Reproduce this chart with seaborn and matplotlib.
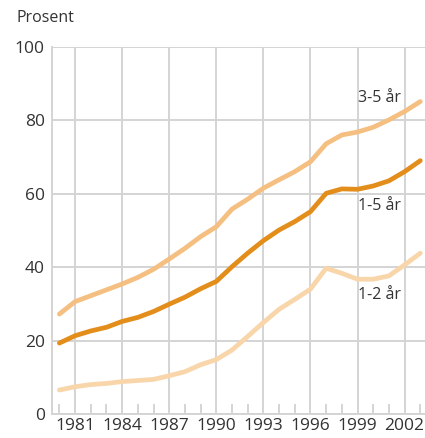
import numpy as np
import pandas as pd
import seaborn as sns
import matplotlib.pyplot as plt

# --- Data ---
YEARS = list(range(1980, 2004))
AGE_3_5 = [27.2, 30.6, 32.2, 33.8, 35.4, 37.2, 39.4, 42.2, 45.1, 48.3, 51.0, 55.8,
           58.5, 61.5, 63.8, 66.0, 68.7, 73.6, 76.0, 76.8, 78.1, 80.1, 82.4, 85.1]
AGE_1_5 = [19.3, 21.3, 22.6, 23.6, 25.2, 26.3, 27.9, 29.9, 31.8, 34.1, 36.1, 40.1,
           43.8, 47.2, 50.1, 52.4, 55.1, 60.1, 61.3, 61.2, 62.1, 63.5, 66.0, 69.0]
AGE_1_2 = [6.5, 7.4, 8.0, 8.3, 8.8, 9.1, 9.4, 10.4, 11.5, 13.4, 14.8, 17.4,
           21.1, 24.9, 28.5, 31.2, 34.0, 39.7, 38.3, 36.7, 36.7, 37.6, 40.6, 43.8]
SERIES = ['3-5 år', '1-5 år', '1-2 år']
COLORS = {'3-5 år': '#F4BF80', '1-5 år': '#E38D1B', '1-2 år': '#F9D5AA'}
X_TICKS = list(range(1981, 2003, 3))
Y_TICKS = [0, 20, 40, 60, 80, 100]

df = pd.DataFrame({
    'År': YEARS * 3,
    'Prosent': AGE_3_5 + AGE_1_5 + AGE_1_2,
    'Gruppe': [s for s in SERIES for _ in YEARS],
})

sns.set_style('whitegrid', {'grid.color': '#d4d4d4', 'axes.edgecolor': '#d4d4d4'})
plt.rcParams['font.family'] = ['Open Sans', 'DejaVu Sans']

fig = plt.figure(figsize=(4.25, 4.38), dpi=100)
ax = fig.add_axes([0.122, 0.055, 0.878, 0.838])

sns.lineplot(data=df, x='År', y='Prosent', hue='Gruppe', palette=COLORS,
             hue_order=SERIES, linewidth=3.4, legend=False, ax=ax)

ax.set_xlim(1979.52, 2003.3)
ax.set_ylim(0, 100)
ax.set_xticks(X_TICKS)
ax.set_xticks(YEARS, minor=True)
ax.set_yticks(Y_TICKS)
ax.tick_params(axis='x', which='minor', direction='in', length=7, width=1.4,
               color='#d4d4d4', bottom=True)
ax.tick_params(axis='x', which='major', length=0, pad=3, labelsize=12.5, labelcolor='#333333')
ax.tick_params(axis='y', length=0, pad=5, labelsize=12.5, labelcolor='#333333')
ax.grid(True, which='major', color='#d4d4d4', linewidth=1.4)
ax.grid(False, which='minor')
ax.set_xlabel('')
ax.set_ylabel('')
for side in ['top', 'right']:
    ax.spines[side].set_visible(False)
for side in ['left', 'bottom']:
    ax.spines[side].set_color('#d4d4d4')
    ax.spines[side].set_linewidth(1.4)

# line labels
ax.text(1999.0, 86.1, '3-5 år', fontsize=11.5, color='#333333', va='center')
ax.text(1999.0, 56.7, '1-5 år', fontsize=11.5, color='#333333', va='center')
ax.text(1999.0, 32.4, '1-2 år', fontsize=11.5, color='#333333', va='center')

fig.text(0.04, 0.958, 'Prosent', fontsize=11.5, color='#333333', va='center')

fig.savefig('out.png', dpi=100)
